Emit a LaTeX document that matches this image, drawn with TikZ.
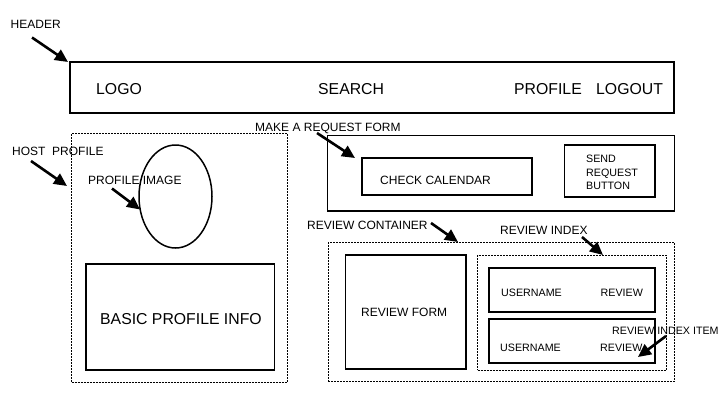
\documentclass[tikz,border=0pt]{standalone}
\usepackage{fontspec}
\setmainfont{Liberation Sans}
\usetikzlibrary{arrows.meta,shapes.geometric,fit}
\begin{document}
\begin{tikzpicture}[x=1pt,y=-1pt,
  box/.style={draw,line width=1.2pt,inner sep=0pt},
  hbox/.style={draw,line width=2pt,inner sep=0pt},
  dbox/.style={draw,line width=0.8pt,dash pattern=on 2pt off 1pt,inner sep=0pt},
  big/.style={font=\fontsize{15.8}{18}\selectfont,inner sep=0pt,anchor=base west},
  lbl/.style={font=\fontsize{12}{14}\selectfont,inner sep=0pt,anchor=base west},
  sml/.style={font=\fontsize{10.7}{13}\selectfont,inner sep=0pt,anchor=base west},
  pointer/.style={line width=2.6pt,-{Triangle[length=13pt,width=12pt]}}]
\useasboundingbox[fill=white] (0,0) rectangle (720,405);

% header
\node[hbox,fit={(70,62)(674,113)}] (header) {};
\node[big] (logo) at (96,94.5) {LOGO};
\node[big] (search) at (318,94.5) {SEARCH};
\node[big] (profile) at (514,94.5) {PROFILE};
\node[big] (logout) at (596,94.5) {LOGOUT};
\node[lbl] (lheader) at (10.5,28) {HEADER};
\coordinate (aheader1) at (32,37.5);
\coordinate (aheader2) at (68,62);
\draw[pointer] (aheader1) -- (aheader2);

% host profile
\node[dbox,fit={(71.5,133)(287,382)}] (host) {};
\node[lbl] (lhost) at (12,155) {HOST\ \ PROFILE};
\coordinate (ahost1) at (31,161);
\coordinate (ahost2) at (67,186);
\draw[pointer] (ahost1) -- (ahost2);
\node[draw,line width=1.5pt,ellipse,minimum width=73pt,minimum height=103pt,inner sep=0pt] (img) at (175.5,196.5) {};
\node[lbl] (limg) at (88,184) {PROFILE IMAGE};
\coordinate (aimg1) at (112,188.5);
\coordinate (aimg2) at (140,209.5);
\draw[pointer] (aimg1) -- (aimg2);
\node[box,fit={(86,264)(274.5,370)}] (basic) {};
\node[big] (lbasic) at (100,324) {BASIC PROFILE INFO};

% request form
\node[box,fit={(327.5,135.5)(674.5,211)}] (request) {};
\node[lbl] (lrequest) at (255,131) {MAKE A REQUEST FORM};
\coordinate (areq1) at (317,133);
\coordinate (areq2) at (355,158);
\draw[pointer] (areq1) -- (areq2);
\node[box,fit={(362,158)(532,195)}] (cal) {};
\node[lbl] (lcal) at (380,184) {CHECK CALENDAR};
\node[box,fit={(564.5,145)(655,197)}] (send) {};
\node[sml] (lsend1) at (586,162.8) {SEND};
\node[sml] (lsend2) at (586,176.1) {REQUEST};
\node[sml] (lsend3) at (586,189.4) {BUTTON};

% review container
\node[dbox,fit={(328,242.5)(674.5,381)}] (container) {};
\node[lbl] (lcont) at (307,229) {REVIEW CONTAINER};
\coordinate (acont1) at (431,223);
\coordinate (acont2) at (458,242);
\draw[pointer] (acont1) -- (acont2);
\node[box,fit={(345.5,255)(466,369)}] (rform) {};
\node[lbl] (lrform) at (361,316) {REVIEW FORM};
\node[dbox,fit={(477.5,255)(666,370)}] (rindex) {};
\node[lbl] (lrindex) at (500,234) {REVIEW INDEX};
\coordinate (aidx1) at (582,237);
\coordinate (aidx2) at (603,255);
\draw[pointer] (aidx1) -- (aidx2);
\node[box,fit={(489,268)(655,312)}] (item1) {};
\node[sml] (user1) at (501,296) {USERNAME};
\node[sml] (rev1) at (600.5,296) {REVIEW};
\node[box,fit={(489,319)(655,363)}] (item2) {};
\node[sml] (user2) at (500,351) {USERNAME};
\node[sml] (rev2) at (600,351) {REVIEW};
\node[sml] (litem) at (612,334) {REVIEW INDEX ITEM};
\coordinate (aitem1) at (666,336);
\coordinate (aitem2) at (638,357);
\draw[pointer] (aitem1) -- (aitem2);
\end{tikzpicture}
\end{document}
